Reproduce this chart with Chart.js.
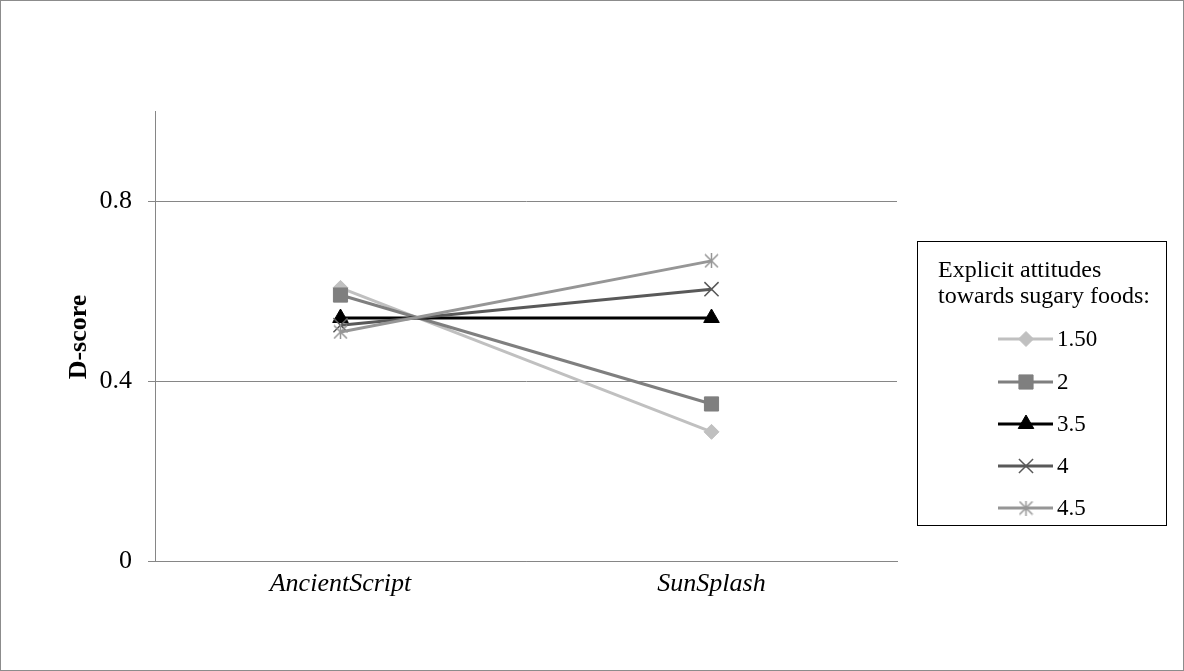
<!DOCTYPE html>
<html>
<head>
<meta charset="utf-8">
<script src="https://cdn.jsdelivr.net/npm/chart.js@4.4.0/dist/chart.umd.min.js"></script>
<style>
  html, body { margin: 0; padding: 0; background: #fff; }
  #wrap { width: 1184px; height: 671px; position: relative; }
</style>
</head>
<body>
<div id="wrap"><canvas id="c" width="1184" height="671"></canvas></div>
<script>
// Categories (brands) and tick labels
const categories = ['AncientScript', 'SunSplash'];
const yTicks = [0, 0.4, 0.8];

// D-score per level of explicit attitude
const seriesNames = ['1.50', '2', '3.5', '4', '4.5'];
const s150 = [0.607, 0.287];
const s2   = [0.591, 0.349];
const s35  = [0.540, 0.540];
const s4   = [0.524, 0.604];
const s45  = [0.509, 0.667];

const SERIF = "'Liberation Serif', 'Times New Roman', serif";
const colors = ['#c0c0c0', '#7f7f7f', '#000000', '#595959', '#969696'];

// asterisk marker: an X with a vertical stroke
function asterisk(color, size) {
  const c = document.createElement('canvas');
  c.width = size; c.height = size;
  const g = c.getContext('2d');
  g.strokeStyle = color;
  g.lineWidth = 1.5;
  const m = size / 2;
  g.beginPath();
  g.moveTo(1, 1); g.lineTo(size - 1, size - 1);
  g.moveTo(size - 1, 1); g.lineTo(1, size - 1);
  g.moveTo(m, 0); g.lineTo(m, size);
  g.stroke();
  return c;
}

const styles = [
  { pointStyle: 'rectRot', radius: 7.5, borderWidth: 1 },
  { pointStyle: 'rect', radius: 10, borderWidth: 1 },
  { pointStyle: 'triangle', radius: 9, borderWidth: 1 },
  { pointStyle: 'crossRot', radius: 10, borderWidth: 1.5 },
  { pointStyle: asterisk(colors[4], 15), radius: 8, borderWidth: 1.5 }
];

const values = [s150, s2, s35, s4, s45];
const datasets = values.map((v, i) => ({
  label: seriesNames[i],
  data: v,
  borderColor: colors[i],
  backgroundColor: colors[i],
  borderWidth: 3,
  pointStyle: styles[i].pointStyle,
  pointRadius: styles[i].radius,
  pointBorderWidth: styles[i].borderWidth,
  pointBackgroundColor: colors[i],
  pointBorderColor: colors[i],
  tension: 0,
  order: values.length - i
}));

// y-axis title, legend box and frame
const decorations = {
  id: 'decorations',
  afterDraw(chart) {
    const ctx = chart.ctx;
    ctx.save();

    // outer frame
    ctx.strokeStyle = '#8c8c8c';
    ctx.lineWidth = 1;
    ctx.strokeRect(0.5, 0.5, 1183, 670);

    // y-axis title
    ctx.save();
    ctx.translate(79, 337);
    ctx.rotate(-Math.PI / 2);
    ctx.font = 'bold 26px ' + SERIF;
    ctx.fillStyle = '#000';
    ctx.textAlign = 'center';
    ctx.textBaseline = 'middle';
    ctx.fillText('D-score', 0, 0);
    ctx.restore();

    // legend
    ctx.strokeStyle = '#000';
    ctx.lineWidth = 1;
    ctx.strokeRect(917.5, 241.5, 249, 284);
    ctx.fillStyle = '#000';
    ctx.font = '24px ' + SERIF;
    ctx.textAlign = 'left';
    ctx.textBaseline = 'middle';
    ctx.fillText('Explicit attitudes', 938, 271);
    ctx.fillText('towards sugary foods:', 938, 297);

    const rowY = [339, 382, 424, 466, 508];
    chart.data.datasets.forEach((ds, i) => {
      const y = rowY[i];
      ctx.strokeStyle = ds.borderColor;
      ctx.lineWidth = 3;
      ctx.beginPath();
      ctx.moveTo(998, y);
      ctx.lineTo(1053, y);
      ctx.stroke();
      ctx.fillStyle = ds.pointBackgroundColor;
      ctx.strokeStyle = ds.pointBorderColor;
      ctx.lineWidth = ds.pointBorderWidth;
      Chart.helpers.drawPoint(ctx, {
        pointStyle: ds.pointStyle,
        radius: ds.pointRadius,
        borderWidth: ds.pointBorderWidth,
        rotation: 0
      }, 1026, y);
      ctx.fillStyle = '#000';
      ctx.font = '23px ' + SERIF;
      ctx.fillText(ds.label, 1057, y + 1);
    });

    ctx.restore();
  }
};

new Chart(document.getElementById('c'), {
  type: 'line',
  data: { labels: categories, datasets },
  options: {
    responsive: false,
    animation: false,
    events: [],
    layout: { padding: { top: 111, right: 287, left: 0, bottom: 0 } },
    plugins: { legend: { display: false }, title: { display: false }, tooltip: { enabled: false } },
    scales: {
      x: {
        offset: true,
        grid: { display: true, drawOnChartArea: false, drawTicks: false },
        border: { display: true, color: '#868686', width: 1 },
        ticks: {
          color: '#000',
          padding: 8,
          font: { family: SERIF, size: 26, style: 'italic' }
        },
        afterFit(s) { s.height = 110; }
      },
      y: {
        min: 0,
        max: 1,
        grid: { color: '#868686', lineWidth: 1, tickLength: 7, drawTicks: true },
        border: { display: true, color: '#868686', width: 1 },
        ticks: {
          stepSize: 0.4,
          color: '#000',
          padding: 16,
          font: { family: SERIF, size: 26 },
          callback: (v) => String(v)
        },
        afterBuildTicks(s) { s.ticks = yTicks.map(v => ({ value: v })); },
        afterFit(s) { s.width = 155; }
      }
    }
  },
  plugins: [decorations]
});
</script>
</body>
</html>
